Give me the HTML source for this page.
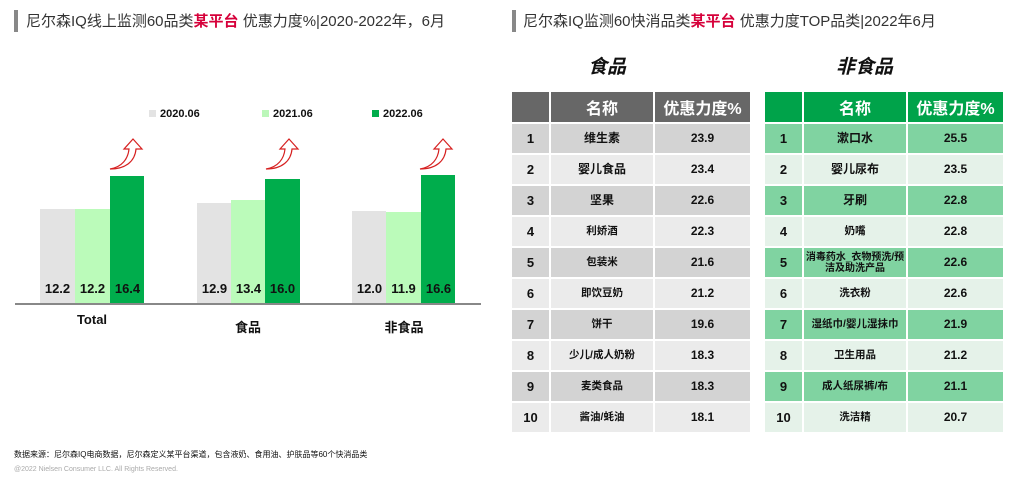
<!DOCTYPE html>
<html><head><meta charset="utf-8"><style>
*{margin:0;padding:0;box-sizing:border-box}
body{width:1024px;height:480px;background:#fff;position:relative;overflow:hidden;font-family:"Liberation Sans","Noto Sans CJK SC",sans-serif;color:#111}
.a{position:absolute}
.t{font-size:15px;color:#333;white-space:nowrap}
.t b{color:#d6003a;font-weight:bold}
.bar{position:absolute}
.v{position:absolute;width:35px;text-align:center;font-weight:bold;font-size:13px;top:281px}
.leg{position:absolute;top:108px;font-weight:bold;font-size:11px;white-space:nowrap}
.leg i{display:inline-block;width:7px;height:7px;margin-right:4px;vertical-align:0}
.cat{position:absolute;font-weight:bold;font-size:13px;text-align:center;width:80px}
table{position:absolute;border-collapse:separate;border-spacing:2px;table-layout:fixed}
td{text-align:center;font-weight:bold;font-size:12px;height:29px;padding:0;line-height:13px}
th{height:30px;color:#fff;font-size:16px;font-weight:bold}
td.n{font-size:13px}
td.s{font-size:10.5px}
.g th{background:#676767}.g tr:nth-child(even) td{background:#d3d3d3}.g tr:nth-child(odd) td{background:#ebebeb}
.q th{background:#00a34a}.q tr:nth-child(even) td{background:#80d3a1}.q tr:nth-child(odd) td{background:#e5f2e9}
</style></head><body>
<div class="a" style="left:14px;top:10px;width:4px;height:22px;background:#888"></div>
<div class="a t" style="left:26px;top:10px">尼尔森IQ线上监测60品类<b>某平台</b> 优惠力度%|2020-2022年，6月</div>
<div class="a" style="left:512px;top:10px;width:4px;height:22px;background:#888"></div>
<div class="a t" style="left:523px;top:10px">尼尔森IQ监测60快消品类<b>某平台</b> 优惠力度TOP品类|2022年6月</div>

<div class="leg" style="left:149px"><i style="background:#e3e3e3"></i>2020.06</div>
<div class="leg" style="left:262px"><i style="background:#bbf7b9"></i>2021.06</div>
<div class="leg" style="left:372px"><i style="background:#00ad4c"></i>2022.06</div>

<div class="bar" style="left:40px;top:209px;width:35px;height:94px;background:#e3e3e3"></div>
<div class="bar" style="left:75px;top:209px;width:35px;height:94px;background:#bbfbba"></div>
<div class="bar" style="left:110px;top:176px;width:34px;height:127px;background:#00ad4c"></div>
<div class="bar" style="left:197px;top:203px;width:34px;height:100px;background:#e3e3e3"></div>
<div class="bar" style="left:231px;top:200px;width:34px;height:103px;background:#bbfbba"></div>
<div class="bar" style="left:265px;top:179px;width:35px;height:124px;background:#00ad4c"></div>
<div class="bar" style="left:352px;top:211px;width:34px;height:92px;background:#e3e3e3"></div>
<div class="bar" style="left:386px;top:212px;width:35px;height:91px;background:#bbfbba"></div>
<div class="bar" style="left:421px;top:175px;width:34px;height:128px;background:#00ad4c"></div>
<div class="a" style="left:15px;top:303px;width:466px;height:2px;background:#888"></div>

<div class="v" style="left:40px">12.2</div><div class="v" style="left:75px">12.2</div><div class="v" style="left:110px">16.4</div>
<div class="v" style="left:197px">12.9</div><div class="v" style="left:231px">13.4</div><div class="v" style="left:265px">16.0</div>
<div class="v" style="left:352px">12.0</div><div class="v" style="left:386px">11.9</div><div class="v" style="left:421px">16.6</div>
<div class="cat" style="left:52px;top:312px">Total</div>
<div class="cat" style="left:208px;top:317px">食品</div>
<div class="cat" style="left:364px;top:317px">非食品</div>

<svg class="a" style="left:0;top:0" width="512" height="200">
<defs><path id="ar" d="M0 30 C12 28 18 20 19 10 L14 10 L23 0 L32 10 L26 10 C25 22 16 30 0 30 Z" fill="#fff" stroke="#d62020" stroke-width="1.2"/></defs>
<use href="#ar" x="110" y="139"/><use href="#ar" x="266" y="139"/><use href="#ar" x="420" y="139"/>
</svg>

<div class="a" style="left:588px;top:52px;font-size:19px;font-weight:bold;font-style:italic">食品</div>
<div class="a" style="left:836px;top:52px;font-size:19px;font-weight:bold;font-style:italic">非食品</div>

<table class="g" style="left:510px;top:90px;width:240px">
<colgroup><col style="width:37px"><col style="width:102px"><col style="width:95px"></colgroup>
<tr><th></th><th>名称</th><th>优惠力度%</th></tr>
<tr><td class="n">1</td><td>维生素</td><td>23.9</td></tr>
<tr><td class="n">2</td><td>婴儿食品</td><td>23.4</td></tr>
<tr><td class="n">3</td><td>坚果</td><td>22.6</td></tr>
<tr><td class="n">4</td><td class="s">利娇酒</td><td>22.3</td></tr>
<tr><td class="n">5</td><td class="s">包装米</td><td>21.6</td></tr>
<tr><td class="n">6</td><td class="s">即饮豆奶</td><td>21.2</td></tr>
<tr><td class="n">7</td><td class="s">饼干</td><td>19.6</td></tr>
<tr><td class="n">8</td><td class="s">少儿/成人奶粉</td><td>18.3</td></tr>
<tr><td class="n">9</td><td class="s">麦类食品</td><td>18.3</td></tr>
<tr><td class="n">10</td><td class="s">酱油/蚝油</td><td>18.1</td></tr>
</table>
<table class="q" style="left:763px;top:90px;width:240px">
<colgroup><col style="width:37px"><col style="width:102px"><col style="width:95px"></colgroup>
<tr><th></th><th>名称</th><th>优惠力度%</th></tr>
<tr><td class="n">1</td><td>漱口水</td><td>25.5</td></tr>
<tr><td class="n">2</td><td>婴儿尿布</td><td>23.5</td></tr>
<tr><td class="n">3</td><td>牙刷</td><td>22.8</td></tr>
<tr><td class="n">4</td><td class="s">奶嘴</td><td>22.8</td></tr>
<tr><td class="n">5</td><td class="s" style="font-size:10px;line-height:11px">消毒药水_衣物预洗/预洁及助洗产品</td><td>22.6</td></tr>
<tr><td class="n">6</td><td class="s">洗衣粉</td><td>22.6</td></tr>
<tr><td class="n">7</td><td class="s">湿纸巾/婴儿湿抹巾</td><td>21.9</td></tr>
<tr><td class="n">8</td><td class="s">卫生用品</td><td>21.2</td></tr>
<tr><td class="n">9</td><td class="s">成人纸尿裤/布</td><td>21.1</td></tr>
<tr><td class="n">10</td><td class="s">洗洁精</td><td>20.7</td></tr>
</table>

<div class="a" style="left:14px;top:449px;font-size:8px;white-space:nowrap">数据来源：尼尔森IQ电商数据，尼尔森定义某平台渠道，包含液奶、食用油、护肤品等60个快消品类</div>
<div class="a" style="left:14px;top:466px;font-size:7px;color:#aaa;white-space:nowrap">@2022 Nielsen Consumer LLC. All Rights Reserved.</div>
</body></html>
